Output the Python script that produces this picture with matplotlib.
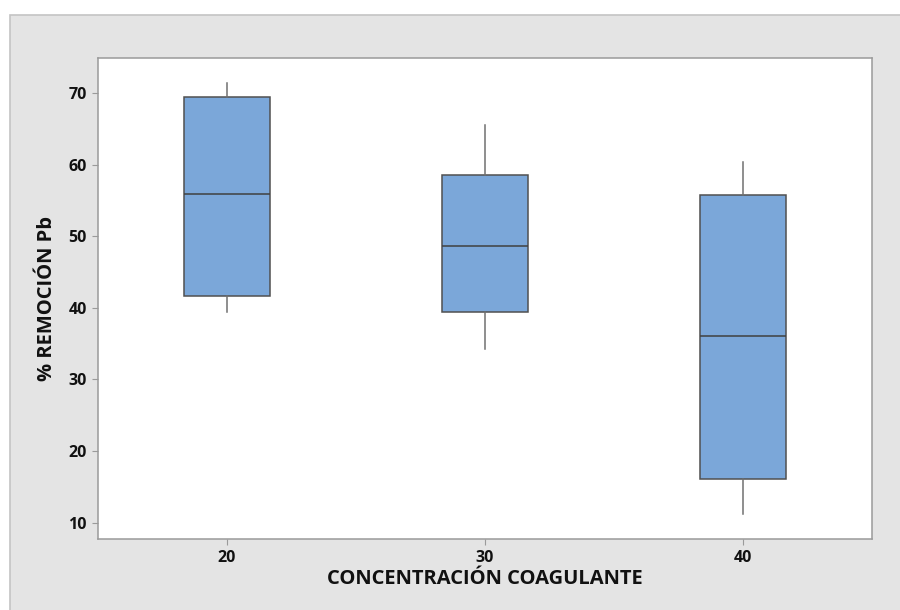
import matplotlib
matplotlib.use("Agg")
import matplotlib.pyplot as plt
from matplotlib.patches import Rectangle

# Box statistics (% removal Pb)
categories = ["20", "30", "40"]
whisker_low = [39.4, 34.2, 11.2]
q1 = [41.7, 39.4, 16.1]
median = [55.9, 48.7, 36.0]
q3 = [69.4, 58.6, 55.7]
whisker_high = [71.4, 65.6, 60.4]

plt.rcParams['font.family'] = ['Open Sans', 'DejaVu Sans']

fig = plt.figure(figsize=(9, 6.1), dpi=100)
fig.patch.set_facecolor("white")
# gray outer panel (Minitab look), kept behind the axes
fig.patches.append(Rectangle((10 / 900, -0.01), 1, 1.01 - 15 / 610, transform=fig.transFigure,
                             facecolor="#e4e4e4", edgecolor="#c4c4c4", lw=1.2, zorder=-5))

ax = fig.add_axes([98 / 900, 71 / 610, 774 / 900, 481 / 610])
ax.set_zorder(2)
ax.set_facecolor("white")

stats = []
for i, c in enumerate(categories):
    stats.append(dict(label=c, whislo=whisker_low[i], q1=q1[i], med=median[i],
                      q3=q3[i], whishi=whisker_high[i], fliers=[]))

ax.bxp(stats, positions=[1, 2, 3], widths=0.337, patch_artist=True, showcaps=False,
       boxprops=dict(facecolor="#7ba7d9", edgecolor="#505050", lw=1.1),
       medianprops=dict(color="#404040", lw=1.1),
       whiskerprops=dict(color="#707070", lw=1.1))

ax.set_xlim(0.5, 3.5)
ax.set_ylim(7.7, 74.9)
ax.set_yticks([10, 20, 30, 40, 50, 60, 70])

for s in ["top", "right", "left", "bottom"]:
    ax.spines[s].set_color("#9a9a9a")
    ax.spines[s].set_linewidth(1.1)

ax.tick_params(colors="#9a9a9a", labelcolor="#111111", labelsize=11.5, length=4, pad=4)
for lab in ax.get_xticklabels() + ax.get_yticklabels():
    lab.set_fontweight("bold")

ax.set_xlabel("CONCENTRACIÓN COAGULANTE", fontsize=14.5, fontweight="bold", color="#111111", labelpad=2)
ax.set_ylabel("% REMOCIÓN Pb", fontsize=14.5, fontweight="bold", color="#111111", labelpad=8)

fig.savefig("out.png", dpi=100)
